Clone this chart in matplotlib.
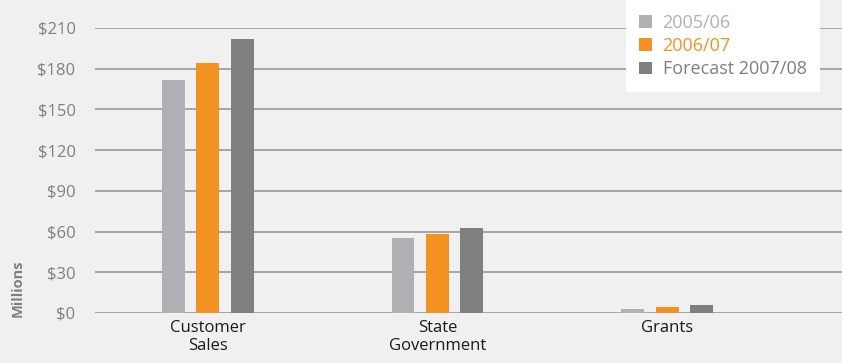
import numpy as np
import matplotlib.pyplot as plt
from matplotlib.patches import Patch

# data
categories = ["Customer\nSales", "State\nGovernment", "Grants"]
series = ["2005/06", "2006/07", "Forecast 2007/08"]
v0506 = [172, 55, 3]
v0607 = [184, 58.5, 4.5]
v0708 = [202, 62.5, 6]
yticks = [0, 30, 60, 90, 120, 150, 180, 210]

colors = ["#b1b0b4", "#f39220", "#7f7f80"]
bg = "#f0f0f0"

plt.rcParams['font.family'] = ['Open Sans', 'DejaVu Sans']

fig = plt.figure(figsize=(8.42, 3.63), dpi=100, facecolor=bg)
ax = fig.add_axes([95/842, 50/363, 747/842, 285/363], facecolor=bg)

x = np.arange(len(categories))
w = 0.1
off = 0.15
for i, vals in enumerate([v0506, v0607, v0708]):
    ax.bar(x + (i - 1)*off, vals, width=w, color=colors[i], zorder=3)

ax.set_ylim(0, 210)
ax.set_xlim(-0.49, 2.76)
ax.set_yticks(yticks)
ax.set_yticklabels([f"${t}" for t in yticks], color="#808080", fontsize=12)
ax.set_xticks(x)
ax.set_xticklabels(categories, color="#1a1a1a", fontsize=12, linespacing=1.15)
ax.tick_params(axis='y', length=0, pad=14)
ax.tick_params(axis='x', length=0, pad=5)
ax.yaxis.grid(True, color="#a5a5a5", linewidth=1.4, zorder=0)
ax.set_axisbelow(True)
for sp in ax.spines.values():
    sp.set_visible(False)

fig.text(18/842, (363 - 288)/363, "Millions", rotation=90, ha='center', va='center',
         color="#808080", fontsize=10.5, fontweight='bold')

handles = [Patch(facecolor=c, edgecolor='none') for c in colors]
leg = fig.legend(handles, series, loc='upper right', bbox_to_anchor=(820/842, 1.0),
                 fontsize=13, frameon=True, facecolor='white', edgecolor='none',
                 fancybox=False, framealpha=1, labelcolor=colors,
                 handlelength=0.7, handleheight=0.7, handletextpad=0.6,
                 labelspacing=0.3, borderpad=0.75, borderaxespad=0)

fig.savefig("out.png", dpi=100, facecolor=bg)
